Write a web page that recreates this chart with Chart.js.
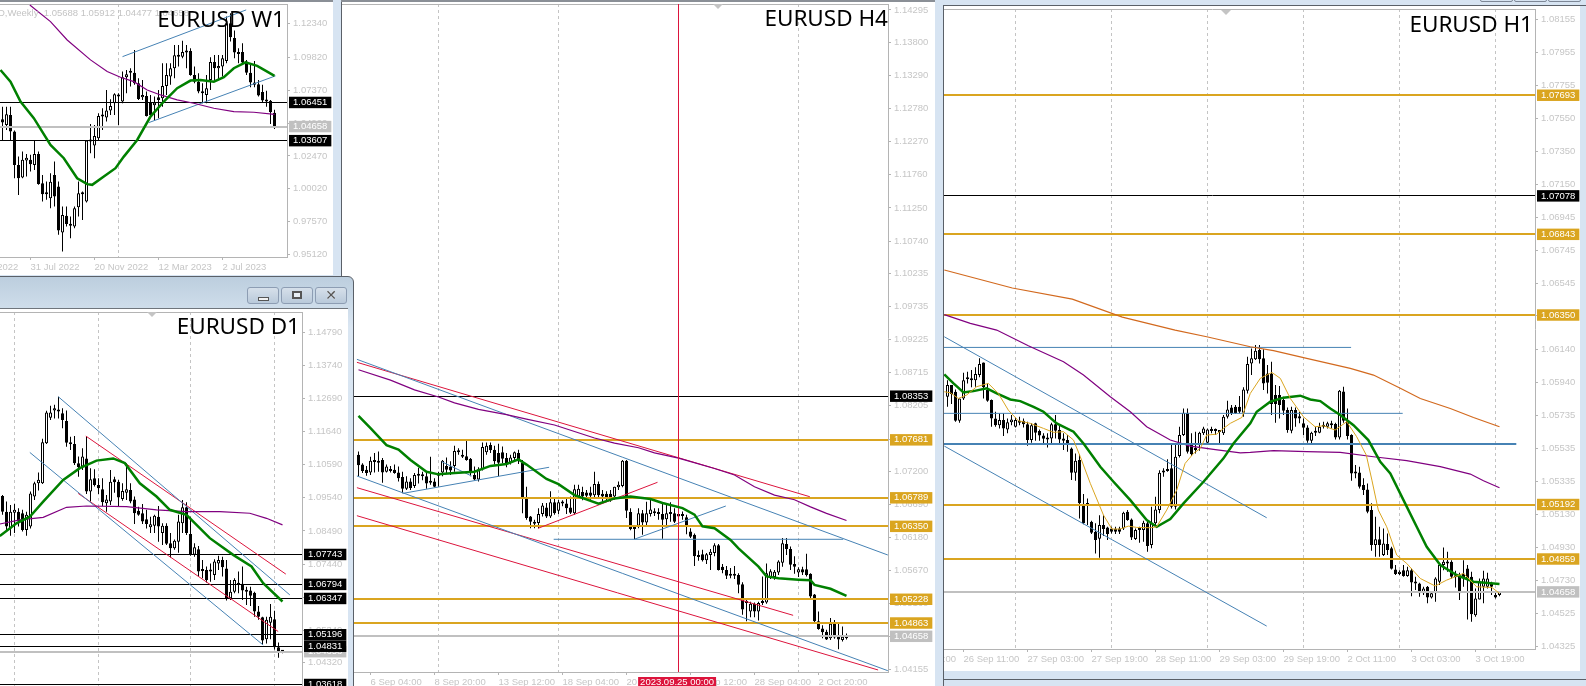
<!DOCTYPE html>
<html>
<head>
<meta charset="utf-8">
<title>EURUSD multi timeframe</title>
<script src="https://cdn.jsdelivr.net/npm/chart.js@4/dist/chart.umd.js"></script>
<style>
html,body{margin:0;padding:0;width:1586px;height:686px;overflow:hidden;background:#d7e4f2}
.abs{position:absolute}
.win{position:absolute;background:#fff;overflow:hidden}
.win canvas{position:absolute;display:block}
.dark{position:absolute;background:#5a6068}
.title{position:absolute;font:22.5px/26px "Noto Sans",sans-serif;color:#000;white-space:nowrap;text-align:right;z-index:5}
.tri{position:absolute;width:0;height:0;border-left:5px solid transparent;border-right:5px solid transparent;border-top:5px solid #c4c4c4;z-index:6}
.btn{position:absolute;top:287px;height:15px;width:30px;border:1px solid #8d9db3;border-radius:3px;background:linear-gradient(#d6e0ea,#b9c9da);z-index:7}
.btop{position:absolute;top:-8px;height:8px;width:31px;border:1px solid #7d8796;border-radius:2px;background:#d7e4f2}
</style>
</head>
<body>
<div class="win" id="w1" style="left:0;top:2px;width:333px;height:273px"></div>
<div class="dark" style="left:0;top:0;width:333px;height:2px;background:#8a8f96"></div>
<div class="win" id="h4" style="left:342px;top:2px;width:593px;height:684px"></div>
<div class="dark" style="left:341px;top:0;width:1px;height:686px"></div>
<div class="dark" style="left:341px;top:0;width:594px;height:2px;background:#8a8f96"></div>
<div class="win" id="h1" style="left:944px;top:6px;width:636px;height:665px"></div>
<div class="dark" style="left:943px;top:5px;width:643px;height:1px"></div>
<div class="dark" style="left:943px;top:5px;width:1px;height:681px"></div>
<div class="dark" style="left:943px;top:679px;width:643px;height:1px"></div>
<div class="btop" style="left:1480px"></div><div class="btop" style="left:1514px"></div><div class="btop" style="left:1548px"></div>
<div class="abs" style="left:-10px;top:276px;width:364px;height:420px;background:linear-gradient(#bccede,#dae6f2 12%,#d7e4f2);border:1px solid #5a6068;border-top-right-radius:6px;box-sizing:border-box"></div>
<div class="dark" style="left:0;top:308px;width:348px;height:1px;background:#6f757c"></div>
<div class="win" id="d1" style="left:0;top:309px;width:348px;height:377px"></div>
<div class="btn" style="left:247px"><div class="abs" style="left:10px;top:9px;width:9px;height:2px;background:#f2f2f2;border:1px solid #555"></div></div>
<div class="btn" style="left:281px"><div class="abs" style="left:10px;top:3px;width:6px;height:4px;background:#e8eef4;border:2px solid #555"></div></div>
<div class="btn" style="left:315px;text-align:center;font:bold 14px/15px 'DejaVu Sans',sans-serif;color:#555;text-shadow:0 0 1px #fff">✕</div>
<div class="title" style="right:1301px;top:6px">EURUSD W1</div>
<div class="title" style="right:1286px;top:313px">EURUSD D1</div>
<div class="title" style="right:698px;top:5px">EURUSD H4</div>
<div class="title" style="right:53px;top:11px">EURUSD H1</div>
<div class="abs" style="right:1397px;top:6px;font:9.5px/13px 'Liberation Sans','Noto Sans',sans-serif;color:#c4c4c4;white-space:pre;z-index:4">EURUSD,Weekly  1.05688 1.05912 1.04477 1.04658</div>
<div class="tri" style="left:147px;top:312px"></div>
<div class="tri" style="left:713px;top:4px"></div>
<div class="tri" style="left:1221px;top:10px"></div>
<script>
// ---- W1 -----------------------------------------------------------------
const w1Ohlc=[[1.0520,1.0614,1.0366,1.0495],[1.0478,1.0614,1.0441,1.0557],[1.0552,1.0614,1.0366,1.0428],[1.0428,1.0436,1.0081,1.0180],[1.0180,1.0242,0.9957,1.0081],[1.0086,1.0280,1.0081,1.0218],[1.0213,1.0262,1.0094,1.0233],[1.0218,1.0255,1.0131,1.0185],[1.0180,1.0366,1.0143,1.0262],[1.0262,1.0280,1.0032,1.0039],[1.0044,1.0106,0.9908,0.9962],[0.9975,1.0056,0.9920,0.9962],[0.9932,1.0118,0.9858,1.0054],[1.0106,1.0205,0.9870,0.9945],[1.0019,1.0056,0.9660,0.9692],[0.9677,0.9870,0.9536,0.9808],[0.9801,0.9870,0.9722,0.9741],[0.9741,0.9796,0.9635,0.9727],[0.9722,0.9870,0.9709,0.9858],[0.9865,1.0056,0.9796,0.9970],[0.9970,0.9982,0.9771,0.9962],[0.9908,1.0366,0.9900,1.0361],[1.0361,1.0485,1.0267,1.0354],[1.0324,1.0478,1.0230,1.0396],[1.0379,1.0565,1.0366,1.0545],[1.0545,1.0602,1.0441,1.0540],[1.0533,1.0738,1.0503,1.0585],[1.0585,1.0669,1.0552,1.0619],[1.0639,1.0714,1.0552,1.0706],[1.0701,1.0714,1.0478,1.0689],[1.0652,1.0875,1.0639,1.0833],[1.0833,1.0887,1.0714,1.0855],[1.0875,1.0900,1.0763,1.0867],[1.0867,1.1036,1.0776,1.0788],[1.0788,1.0825,1.0664,1.0671],[1.0684,1.0813,1.0664,1.0701],[1.0694,1.0726,1.0540,1.0545],[1.0644,1.0701,1.0528,1.0552],[1.0624,1.0689,1.0515,1.0644],[1.0684,1.0738,1.0528,1.0664],[1.0676,1.0937,1.0614,1.0768],[1.0768,1.0937,1.0701,1.0850],[1.0838,1.0937,1.0776,1.0900],[1.0900,1.1073,1.0825,1.0996],[1.0996,1.1073,1.0912,1.0986],[1.0986,1.1105,1.0974,1.1021],[1.1024,1.1073,1.0900,1.1016],[1.1029,1.1048,1.0843,1.0850],[1.0850,1.0912,1.0788,1.0800],[1.0800,1.0862,1.0714,1.0726],[1.0726,1.0788,1.0639,1.0714],[1.0701,1.0850,1.0639,1.0751],[1.0813,1.0981,1.0738,1.0947],[1.0947,1.0999,1.0813,1.0900],[1.0900,1.0999,1.0813,1.0917],[1.0912,1.0999,1.0838,1.0974],[1.0954,1.1284,1.0937,1.1234],[1.1234,1.1309,1.1098,1.1130],[1.1125,1.1180,1.0974,1.1016],[1.1021,1.1048,1.0937,1.1006],[1.1021,1.1086,1.0924,1.0942],[1.0949,1.0962,1.0850,1.0867],[1.0867,1.0924,1.0758,1.0793],[1.0793,1.0954,1.0758,1.0776],[1.0781,1.0813,1.0689,1.0696],[1.0723,1.0776,1.0644,1.0659],[1.0662,1.0733,1.0614,1.0652],[1.0657,1.0664,1.0485,1.0572],[1.05688,1.05912,1.04477,1.04658]];
const w1Green=[[-68.5,1.0887],[-66,1.0800],[-63.5,1.0652],[-60.17,1.0528],[-56,1.0329],[-52.67,1.0230],[-49.33,1.0081],[-46.83,1.0037],[-45.58,1.0032],[-42.67,1.0094],[-39.75,1.0156],[-37.67,1.0242],[-34.33,1.0366],[-31,1.0540],[-27.67,1.0652],[-24.33,1.0751],[-21,1.0808],[-18.5,1.0813],[-15.17,1.0800],[-12.67,1.0833],[-10.17,1.0900],[-7.25,1.0944],[-4.33,1.0917],[-1.83,1.0875],[0,1.0843]];
const w1Purple=[[-61.17,1.1371],[-56,1.1247],[-51.83,1.1110],[-46,1.0962],[-41.83,1.0875],[-38.5,1.0833],[-35.17,1.0800],[-31.83,1.0738],[-28.5,1.0701],[-24.33,1.0664],[-20.17,1.0639],[-15.17,1.0602],[-10.17,1.0577],[-5.17,1.0572],[0,1.0557]];
const w1Blue=[[[-38,1.0986],[-7.08,1.1334]],[[-31.42,1.0495],[0.25,1.0843]]];
const w1Black=[1.06451,1.03607];
const w1Ticks=[1.12340,1.09820,1.07370,1.04920,1.02470,1.00020,0.97570,0.95120];
const w1Dates=[[-77,"10 Apr 2022"],[-61,"31 Jul 2022"],[-45,"20 Nov 2022"],[-29,"12 Mar 2023"],[-13,"2 Jul 2023"]];
const w1Grid=[-39];

// ---- D1 -----------------------------------------------------------------
const d1Ohlc=[[1.0960,1.0963,1.0900,1.0910],[1.0910,1.0942,1.0847,1.0863],[1.0857,1.0931,1.0834,1.0910],[1.0907,1.0935,1.0842,1.0916],[1.0910,1.0921,1.0863,1.0879],[1.0905,1.0916,1.0847,1.0852],[1.0852,1.0910,1.0834,1.0900],[1.0863,1.0974,1.0857,1.0968],[1.0958,1.1005,1.0947,1.1000],[1.1000,1.1034,1.0977,1.1011],[1.1000,1.1141,1.0998,1.1130],[1.1127,1.1230,1.1125,1.1225],[1.1208,1.1246,1.1201,1.1225],[1.1231,1.1249,1.1206,1.1238],[1.1233,1.1275,1.1206,1.1228],[1.1222,1.1238,1.1175,1.1201],[1.1198,1.1231,1.1116,1.1129],[1.1129,1.1148,1.1106,1.1124],[1.1125,1.1150,1.1058,1.1064],[1.1064,1.1085,1.1021,1.1051],[1.1053,1.1111,1.1042,1.1085],[1.1079,1.1148,1.0966,1.0974],[1.0974,1.1048,1.0942,1.1013],[1.1016,1.1045,1.0990,1.0995],[1.0995,1.1016,1.0966,1.0984],[1.0981,1.1016,1.0928,1.0940],[1.0937,1.0963,1.0910,1.0949],[1.0942,1.1042,1.0931,1.1005],[1.1013,1.1021,1.0970,1.1003],[1.1005,1.1011,1.0928,1.0955],[1.0950,1.1000,1.0945,1.0976],[1.0970,1.1064,1.0947,1.0981],[1.0979,1.1000,1.0937,1.0942],[1.0949,1.0958,1.0871,1.0905],[1.0913,1.0926,1.0897,1.0900],[1.0905,1.0934,1.0871,1.0879],[1.0886,1.0916,1.0857,1.0871],[1.0861,1.0894,1.0842,1.0870],[1.0865,1.0900,1.0842,1.0897],[1.0894,1.0928,1.0815,1.0863],[1.0842,1.0873,1.0804,1.0865],[1.0865,1.0873,1.0804,1.0808],[1.0810,1.0842,1.0765,1.0794],[1.0794,1.0822,1.0789,1.0818],[1.0815,1.0900,1.0780,1.0879],[1.0873,1.0947,1.0842,1.0924],[1.0924,1.0940,1.0836,1.0842],[1.0839,1.0894,1.0770,1.0776],[1.0773,1.0810,1.0767,1.0797],[1.0791,1.0801,1.0706,1.0720],[1.0728,1.0757,1.0699,1.0722],[1.0725,1.0736,1.0685,1.0693],[1.0725,1.0746,1.0688,1.0720],[1.0709,1.0759,1.0693,1.0752],[1.0746,1.0770,1.0725,1.0757],[1.0757,1.0767,1.0704,1.0734],[1.0730,1.0757,1.0628,1.0635],[1.0635,1.0693,1.0630,1.0656],[1.0656,1.0699,1.0651,1.0693],[1.0683,1.0720,1.0651,1.0678],[1.0681,1.0736,1.0630,1.0660],[1.0660,1.0672,1.0614,1.0656],[1.0660,1.0672,1.0611,1.0643],[1.0653,1.0656,1.0577,1.0593],[1.0593,1.0611,1.0567,1.0577],[1.0575,1.0577,1.0487,1.0501],[1.0505,1.0577,1.0492,1.0567],[1.0558,1.0617,1.0505,1.0577],[1.0569,1.0596,1.0473,1.0480],[1.0480,1.0495,1.0447,1.0466],[1.0468,1.0471,1.0461,1.04658]];
const d1Green=[[-70.67,1.0833],[-66.5,1.0873],[-63.17,1.0894],[-59.83,1.0942],[-54.83,1.1011],[-50.67,1.1048],[-46.5,1.1072],[-42.33,1.1079],[-39.42,1.1064],[-35.67,1.1000],[-31.5,1.0958],[-28.17,1.0916],[-24,1.0900],[-18.17,1.0826],[-12.33,1.0773],[-7.75,1.0736],[-4.83,1.0683],[0,1.0625]];
const d1Purple=[[-70.67,1.0871],[-65.67,1.0884],[-59.83,1.0892],[-54,1.0924],[-49,1.0928],[-39,1.0926],[-31.5,1.0916],[-24,1.0910],[-15.67,1.0910],[-8.17,1.0905],[-4,1.0889],[0,1.0868]];
const d1Blue=[[[-56.08,1.1275],[1.83,1.0646]],[[-63.17,1.1098],[-4.83,1.0487]]];
const d1Red=[[[-49.17,1.1150],[0.83,1.0712]],[[-51.08,1.0968],[-1.08,1.0530]]];
const d1Black=[1.07743,1.06794,1.06347,1.05196,1.04831,1.03618];
const d1Ticks=[1.14790,1.13740,1.12690,1.11640,1.10590,1.09540,1.08490,1.07440,1.06390,1.05340,1.04320];
const d1Grid=[-67,-46,-23,-2];

// ---- H4 -----------------------------------------------------------------
const h4Ohlc=[[1.0745,1.0750,1.0712,1.0729],[1.0730,1.0732,1.0717,1.0720],[1.0722,1.0728,1.0713,1.0717],[1.0718,1.0742,1.0714,1.0736],[1.0736,1.0748,1.0718,1.0734],[1.0733,1.0750,1.0719,1.0736],[1.0737,1.0740,1.0702,1.0718],[1.0719,1.0730,1.0718,1.0727],[1.0722,1.0728,1.0718,1.0720],[1.0722,1.0730,1.0716,1.0717],[1.0718,1.0727,1.0704,1.0709],[1.0711,1.0719,1.0686,1.0693],[1.0693,1.0712,1.0691,1.0704],[1.0704,1.0709,1.0691,1.0694],[1.0697,1.0717,1.0694,1.0714],[1.0714,1.0725,1.0701,1.0713],[1.0714,1.0719,1.0706,1.0712],[1.0712,1.0719,1.0693,1.0701],[1.0704,1.0742,1.0699,1.0702],[1.0704,1.0709,1.0695,1.0696],[1.0715,1.0719,1.0696,1.0713],[1.0718,1.0737,1.0712,1.0736],[1.0728,1.0741,1.0717,1.0722],[1.0727,1.0735,1.0714,1.0721],[1.0728,1.0759,1.0719,1.0751],[1.0751,1.0755,1.0745,1.0749],[1.0745,1.0753,1.0740,1.0742],[1.0743,1.0768,1.0736,1.0737],[1.0739,1.0740,1.0712,1.0719],[1.0714,1.0727,1.0706,1.0707],[1.0707,1.0726,1.0704,1.0723],[1.0723,1.0764,1.0721,1.0757],[1.0749,1.0764,1.0745,1.0759],[1.0760,1.0764,1.0748,1.0752],[1.0753,1.0759,1.0730,1.0735],[1.0748,1.0762,1.0712,1.0733],[1.0749,1.0758,1.0732,1.0739],[1.0740,1.0748,1.0726,1.0731],[1.0733,1.0745,1.0730,1.0741],[1.0740,1.0750,1.0736,1.0749],[1.0748,1.0753,1.0731,1.0735],[1.0733,1.0737,1.0655,1.0677],[1.0677,1.0696,1.0645,1.0648],[1.0650,1.0651,1.0632,1.0642],[1.0642,1.0645,1.0632,1.0639],[1.0640,1.0663,1.0632,1.0654],[1.0654,1.0671,1.0650,1.0667],[1.0664,1.0671,1.0648,1.0650],[1.0650,1.0689,1.0648,1.0672],[1.0672,1.0677,1.0653,1.0655],[1.0659,1.0676,1.0654,1.0672],[1.0672,1.0675,1.0666,1.0670],[1.0670,1.0677,1.0654,1.0663],[1.0664,1.0681,1.0654,1.0656],[1.0655,1.0699,1.0653,1.0692],[1.0681,1.0699,1.0678,1.0693],[1.0688,1.0696,1.0675,1.0681],[1.0687,1.0691,1.0678,1.0682],[1.0687,1.0696,1.0676,1.0682],[1.0683,1.0719,1.0680,1.0700],[1.0700,1.0704,1.0680,1.0683],[1.0685,1.0691,1.0671,1.0681],[1.0685,1.0689,1.0675,1.0678],[1.0685,1.0691,1.0673,1.0678],[1.0681,1.0696,1.0676,1.0696],[1.0695,1.0704,1.0691,1.0699],[1.0697,1.0737,1.0695,1.0736],[1.0736,1.0737,1.0648,1.0659],[1.0657,1.0663,1.0629,1.0631],[1.0634,1.0637,1.0615,1.0631],[1.0636,1.0663,1.0632,1.0655],[1.0655,1.0660,1.0622,1.0641],[1.0641,1.0673,1.0637,1.0655],[1.0654,1.0676,1.0650,1.0661],[1.0656,1.0663,1.0651,1.0655],[1.0656,1.0663,1.0645,1.0654],[1.0654,1.0671,1.0616,1.0645],[1.0646,1.0668,1.0635,1.0655],[1.0656,1.0672,1.0642,1.0654],[1.0655,1.0663,1.0640,1.0642],[1.0654,1.0658,1.0642,1.0650],[1.0654,1.0658,1.0645,1.0651],[1.0649,1.0653,1.0623,1.0637],[1.0627,1.0632,1.0617,1.0619],[1.0622,1.0624,1.0574,1.0589],[1.0591,1.0598,1.0582,1.0588],[1.0592,1.0599,1.0581,1.0583],[1.0583,1.0594,1.0577,1.0592],[1.0591,1.0600,1.0568,1.0596],[1.0594,1.0609,1.0589,1.0606],[1.0606,1.0608,1.0567,1.0568],[1.0573,1.0577,1.0563,1.0568],[1.0568,1.0574,1.0554,1.0559],[1.0561,1.0571,1.0555,1.0559],[1.0560,1.0574,1.0554,1.0559],[1.0560,1.0563,1.0532,1.0545],[1.0546,1.0549,1.0499,1.0507],[1.0519,1.0522,1.0489,1.0517],[1.0504,1.0519,1.0495,1.0516],[1.0516,1.0518,1.0495,1.0504],[1.0504,1.0519,1.0490,1.0517],[1.0519,1.0558,1.0514,1.0517],[1.0518,1.0578,1.0516,1.0563],[1.0557,1.0569,1.0554,1.0566],[1.0557,1.0568,1.0553,1.0565],[1.0564,1.0583,1.0560,1.0581],[1.0579,1.0617,1.0573,1.0609],[1.0608,1.0617,1.0591,1.0600],[1.0600,1.0604,1.0568,1.0576],[1.0577,1.0589,1.0562,1.0573],[1.0564,1.0572,1.0557,1.0569],[1.0569,1.0573,1.0560,1.0564],[1.0569,1.0593,1.0558,1.0560],[1.0562,1.0563,1.0524,1.0527],[1.0530,1.0531,1.0486,1.0489],[1.0489,1.0504,1.0476,1.0477],[1.0478,1.0483,1.0463,1.0472],[1.0473,1.0476,1.0460,1.0461],[1.0463,1.0494,1.0460,1.0485],[1.0485,1.0491,1.0462,1.0464],[1.0466,1.0486,1.0446,1.0461],[1.0460,1.0481,1.0458,1.0465],[1.0463,1.0470,1.0461,1.04658]];
const h4Green=[[-122,1.0805],[-119,1.0786],[-115,1.0760],[-112,1.0753],[-109,1.0737],[-105,1.0719],[-102,1.0715],[-98,1.0717],[-93,1.0719],[-89,1.0728],[-85,1.0731],[-82,1.0738],[-80,1.0730],[-75,1.0708],[-72,1.0700],[-68,1.0683],[-62,1.0670],[-58,1.0678],[-54,1.0681],[-49,1.0677],[-46,1.0671],[-41,1.0663],[-38,1.0653],[-36,1.0635],[-33,1.0632],[-29,1.0614],[-27,1.0601],[-22,1.0573],[-20,1.0558],[-17,1.0555],[-12,1.0553],[-9,1.0552],[-8,1.0545],[-4,1.0539],[0,1.0528]];
const h4Purple=[[-122,1.0876],[-114,1.0860],[-108,1.0845],[-102,1.0834],[-98,1.0825],[-92,1.0815],[-85,1.0807],[-80,1.0800],[-73,1.0791],[-68,1.0781],[-63,1.0771],[-58,1.0763],[-52,1.0756],[-48,1.0748],[-42,1.0740],[-33,1.0724],[-28,1.0714],[-23,1.0696],[-18,1.0683],[-13,1.0676],[-9,1.0665],[-5,1.0655],[0,1.0644]];
const h4Blue=[[[-122.4,1.0892],[10.33,1.05909]],[[-122.4,1.07125],[10.33,1.04129]],[[-110.84,1.06858],[-74.34,1.07259]],[[-101.2,1.07345],[-93.75,1.07125]],[[-73.2,1.06151],[-0.83,1.06151]],[[-52.9,1.06155],[-30.17,1.06663]]];
const h4Red=[[[-122.4,1.08874],[-9.17,1.06806]],[[-122.4,1.06945],[-13.34,1.04981]],[[-122.4,1.06514],[7.9,1.0414]],[[-77.1,1.0632],[-47.25,1.07028]]];
const h4Black=[1.08353];
const h4Gold=[1.07681,1.06789,1.06350,1.05228,1.04863];
const h4Ticks=[1.14295,1.13800,1.13290,1.12780,1.12270,1.11760,1.11250,1.10740,1.10235,1.09735,1.09225,1.08715,1.08205,1.07690,1.07200,1.06690,1.06180,1.05670,1.05160,1.04650,1.04155];
const h4Dates=[[-119,"6 Sep 04:00"],[-103,"8 Sep 20:00"],[-87,"13 Sep 12:00"],[-71,"18 Sep 04:00"],[-55,"20 Sep 20:00"],[-39,"25 Sep 12:00"],[-23,"28 Sep 04:00"],[-7,"2 Oct 20:00"]];
const h4Grid=[-102,-72,-12];
const h4Cursor=-42, h4CursorLabel="2023.09.25 00:00";

// ---- H1 -----------------------------------------------------------------
const h1Ohlc=[[1.05851,1.05952,1.05789,1.05922],[1.05922,1.05922,1.05806,1.05867],[1.05881,1.05895,1.05698,1.05704],[1.05704,1.05840,1.05692,1.05840],[1.05840,1.05997,1.05830,1.05952],[1.05957,1.06003,1.05932,1.05969],[1.05963,1.06014,1.05908,1.05952],[1.05952,1.06030,1.05912,1.05989],[1.05983,1.06085,1.05969,1.06050],[1.06060,1.06060,1.05840,1.05908],[1.05891,1.05932,1.05820,1.05826],[1.05830,1.05834,1.05667,1.05718],[1.05718,1.05759,1.05667,1.05677],[1.05677,1.05749,1.05657,1.05708],[1.05708,1.05749,1.05610,1.05657],[1.05651,1.05718,1.05627,1.05694],[1.05694,1.05739,1.05677,1.05712],[1.05667,1.05724,1.05663,1.05708],[1.05704,1.05728,1.05677,1.05692],[1.05704,1.05718,1.05663,1.05682],[1.05682,1.05698,1.05551,1.05586],[1.05586,1.05688,1.05570,1.05677],[1.05688,1.05692,1.05582,1.05631],[1.05641,1.05651,1.05582,1.05614],[1.05614,1.05627,1.05565,1.05594],[1.05596,1.05627,1.05541,1.05590],[1.05596,1.05692,1.05561,1.05682],[1.05682,1.05739,1.05596,1.05643],[1.05647,1.05684,1.05565,1.05590],[1.05596,1.05627,1.05525,1.05582],[1.05586,1.05616,1.05515,1.05565],[1.05535,1.05541,1.05341,1.05386],[1.05386,1.05504,1.05337,1.05460],[1.05464,1.05500,1.05107,1.05199],[1.05195,1.05256,1.05072,1.05077],[1.05199,1.05229,1.05066,1.05189],[1.05087,1.05093,1.05011,1.05020],[1.05026,1.05077,1.04893,1.04975],[1.04983,1.05127,1.04867,1.05066],[1.05066,1.05127,1.05000,1.05042],[1.05052,1.05056,1.04975,1.05011],[1.05046,1.05056,1.05015,1.05026],[1.05044,1.05056,1.05011,1.05026],[1.05046,1.05056,1.05011,1.05026],[1.05046,1.05148,1.05036,1.05142],[1.05148,1.05158,1.05093,1.05097],[1.05101,1.05107,1.04975,1.04991],[1.04981,1.05046,1.04975,1.05036],[1.05040,1.05056,1.04958,1.05036],[1.05036,1.05093,1.04965,1.05081],[1.05077,1.05087,1.04903,1.04938],[1.04944,1.05178,1.04924,1.05081],[1.05077,1.05240,1.05056,1.05162],[1.05158,1.05402,1.05138,1.05386],[1.05396,1.05413,1.05362,1.05388],[1.05396,1.05468,1.05392,1.05407],[1.05413,1.05555,1.05168,1.05178],[1.05178,1.05555,1.05162,1.05484],[1.05488,1.05667,1.05480,1.05616],[1.05616,1.05779,1.05610,1.05753],[1.05753,1.05779,1.05504,1.05515],[1.05555,1.05627,1.05488,1.05500],[1.05535,1.05637,1.05504,1.05525],[1.05555,1.05637,1.05521,1.05631],[1.05627,1.05667,1.05616,1.05657],[1.05570,1.05657,1.05561,1.05651],[1.05647,1.05667,1.05627,1.05641],[1.05647,1.05657,1.05616,1.05641],[1.05641,1.05647,1.05555,1.05635],[1.05627,1.05739,1.05616,1.05728],[1.05728,1.05826,1.05718,1.05773],[1.05785,1.05800,1.05739,1.05749],[1.05789,1.05800,1.05745,1.05749],[1.05789,1.05855,1.05749,1.05759],[1.05753,1.05908,1.05728,1.05895],[1.05887,1.06095,1.05871,1.06050],[1.06054,1.06146,1.05983,1.06085],[1.06079,1.06166,1.06075,1.06132],[1.06136,1.06166,1.06054,1.06079],[1.06085,1.06140,1.05891,1.05932],[1.05993,1.06044,1.05871,1.05936],[1.05993,1.06064,1.05739,1.05806],[1.05861,1.05922,1.05692,1.05806],[1.05861,1.05916,1.05718,1.05800],[1.05830,1.05851,1.05739,1.05765],[1.05769,1.05785,1.05631,1.05647],[1.05643,1.05789,1.05627,1.05769],[1.05769,1.05785,1.05667,1.05718],[1.05732,1.05759,1.05688,1.05718],[1.05688,1.05718,1.05616,1.05661],[1.05663,1.05677,1.05570,1.05582],[1.05582,1.05637,1.05565,1.05631],[1.05637,1.05667,1.05610,1.05631],[1.05631,1.05692,1.05627,1.05667],[1.05667,1.05698,1.05657,1.05677],[1.05667,1.05698,1.05657,1.05688],[1.05688,1.05704,1.05657,1.05677],[1.05684,1.05692,1.05590,1.05602],[1.05602,1.05891,1.05590,1.05887],[1.05883,1.05912,1.05692,1.05704],[1.05704,1.05779,1.05590,1.05610],[1.05616,1.05622,1.05337,1.05382],[1.05388,1.05433,1.05352,1.05382],[1.05388,1.05423,1.05290,1.05301],[1.05311,1.05352,1.05250,1.05280],[1.05284,1.05321,1.05138,1.05148],[1.05158,1.05199,1.04910,1.04944],[1.04944,1.05117,1.04873,1.04979],[1.04979,1.05056,1.04873,1.04944],[1.04883,1.05046,1.04877,1.04954],[1.04950,1.05015,1.04883,1.04914],[1.04924,1.04934,1.04795,1.04799],[1.04795,1.04822,1.04761,1.04767],[1.04767,1.04791,1.04761,1.04781],[1.04791,1.04822,1.04751,1.04755],[1.04755,1.04812,1.04751,1.04791],[1.04791,1.04801,1.04632,1.04716],[1.04720,1.04751,1.04669,1.04710],[1.04710,1.04714,1.04628,1.04649],[1.04649,1.04689,1.04639,1.04679],[1.04689,1.04694,1.04588,1.04624],[1.04624,1.04659,1.04618,1.04649],[1.04649,1.04747,1.04598,1.04740],[1.04720,1.04832,1.04700,1.04822],[1.04822,1.04930,1.04791,1.04842],[1.04842,1.04903,1.04781,1.04832],[1.04842,1.04852,1.04740,1.04751],[1.04755,1.04787,1.04685,1.04747],[1.04755,1.04775,1.04608,1.04649],[1.04771,1.04852,1.04689,1.04740],[1.04801,1.04822,1.04490,1.04730],[1.04751,1.04781,1.04476,1.04522],[1.04516,1.04679,1.04506,1.04618],[1.04612,1.04740,1.04612,1.04720],[1.04689,1.04787,1.04588,1.04740],[1.04689,1.04775,1.04679,1.04740],[1.04710,1.04720,1.04639,1.04689],[1.04639,1.04659,1.04618,1.04624],[1.04639,1.04659,1.04632,1.04658]];
const h1Green=[[-138.8,1.05987],[-136.5,1.05932],[-134,1.05877],[-131.5,1.05885],[-128.2,1.05902],[-125.7,1.05871],[-122.3,1.05834],[-119.8,1.05824],[-116.5,1.05789],[-114,1.05759],[-110.7,1.05688],[-106.5,1.05637],[-104,1.05565],[-99.8,1.05423],[-96.5,1.05331],[-92.3,1.05219],[-88.2,1.05097],[-85.7,1.05056],[-82.3,1.05103],[-79,1.05199],[-74,1.05331],[-69,1.05474],[-66.5,1.05565],[-62.3,1.05688],[-60.7,1.05759],[-57.3,1.05820],[-54,1.05845],[-49.8,1.05857],[-47.3,1.05834],[-44.8,1.05824],[-42.3,1.05779],[-39.8,1.05739],[-36.5,1.05677],[-32.8,1.05586],[-29.8,1.05453],[-27.3,1.05382],[-24,1.05219],[-20.7,1.05056],[-18.2,1.04934],[-14.8,1.04822],[-10.7,1.04761],[-6.5,1.04720],[0,1.04706]];
const h1Gold=[[-138.8,1.05881],[-137.3,1.05875],[-135.3,1.05840],[-133.2,1.05861],[-130.7,1.05912],[-127.8,1.05932],[-125.3,1.05871],[-122.8,1.05769],[-120.3,1.05704],[-117.3,1.05688],[-114,1.05657],[-111.5,1.05633],[-109,1.05637],[-106.5,1.05586],[-104.8,1.05484],[-102.3,1.05321],[-99,1.05127],[-96.9,1.05042],[-94.8,1.05042],[-92.8,1.05060],[-90.7,1.05052],[-87.3,1.05050],[-85.7,1.05056],[-83.2,1.05158],[-80.7,1.05280],[-78.6,1.05443],[-76.5,1.05504],[-74.8,1.05535],[-73.2,1.05616],[-70.7,1.05622],[-69,1.05657],[-67.3,1.05688],[-64.4,1.05724],[-62.3,1.05871],[-59.8,1.05963],[-56.9,1.05999],[-54.8,1.05963],[-52.3,1.05840],[-49,1.05728],[-46.1,1.05667],[-44,1.05673],[-41.1,1.05647],[-38.2,1.05698],[-35.7,1.05606],[-33.3,1.05494],[-31.9,1.05341],[-30.3,1.05158],[-28.2,1.05056],[-25.7,1.04883],[-23.2,1.04832],[-19.8,1.04740],[-16.1,1.04694],[-13.2,1.04730],[-9,1.04771],[-5.7,1.04689],[-1.9,1.04685],[0,1.04649]];
const h1Purple=[[-138.8,1.06352],[-132.3,1.06299],[-125.7,1.06258],[-117.8,1.06162],[-109,1.06064],[-104,1.05983],[-97.3,1.05851],[-92.3,1.05759],[-88.2,1.05667],[-82.3,1.05586],[-77.3,1.05549],[-71.5,1.05529],[-64.8,1.05508],[-62.3,1.05510],[-56.5,1.05521],[-48.2,1.05515],[-39.8,1.05510],[-31.5,1.05484],[-23.2,1.05460],[-14.8,1.05423],[-7.3,1.05378],[-4,1.05337],[0,1.05294]];
const h1Brown=[[-138.8,1.06625],[-121.8,1.06515],[-106.8,1.06447],[-94.3,1.06337],[-81.1,1.06258],[-73.2,1.06217],[-62.3,1.06156],[-56.5,1.06132],[-48.2,1.06085],[-37.3,1.06024],[-31.5,1.05983],[-24.8,1.05902],[-19.8,1.05840],[-12.3,1.05779],[-6.5,1.05724],[0,1.05667]];
const h1Blue=[[[-138.8,1.06217],[-58.2,1.05111]],[[-138.8,1.05549],[-58.2,1.04449]],[[-152,1.06152],[-37.1,1.06152]],[[-152,1.05749],[-24.2,1.05749]]];
const h1BlueThick=[[-152,1.05561],[4.2,1.05561]];
const h1BlackLevels=[1.07078];
const h1GoldLevels=[1.07693,1.06843,1.06350,1.05192,1.04859];
const h1Ticks=[1.08155,1.07955,1.07755,1.07550,1.07350,1.07150,1.06945,1.06745,1.06545,1.06345,1.06140,1.05940,1.05735,1.05535,1.05335,1.05130,1.04930,1.04730,1.04525,1.04325];
const h1Dates=[[-150,"25 Sep 19:00"],[-134,"26 Sep 11:00"],[-118,"27 Sep 03:00"],[-102,"27 Sep 19:00"],[-86,"28 Sep 11:00"],[-70,"29 Sep 03:00"],[-54,"29 Sep 19:00"],[-38,"2 Oct 11:00"],[-22,"3 Oct 03:00"],[-6,"3 Oct 19:00"]];
const h1Grid=[-121,-97,-73,-49,-25,-1];

const lastPrice=1.04658;

// ---- styles -------------------------------------------------------------
const C={blue:'#4682b4',red:'#dc143c',green:'#008000',purple:'#800080',gold:'#daa520',brown:'#d2691e',grey:'#c0c0c0',axis:'#b4b4b4',tick:'#c6c6c6'};
const FONT='"Liberation Sans",sans-serif';

const snapPlugin={id:'snap',beforeDatasetsDraw(chart){
  chart.data.datasets.forEach((d,i)=>{ if(!d.snap) return;
    const off=(d.borderWidth%2)/2;
    chart.getDatasetMeta(i).data.forEach(p=>{p.y=Math.round(p.y-off)+off;});
  });
  const a=chart.chartArea,c=chart.ctx;
  c.save();c.strokeStyle=C.axis;c.lineWidth=1;c.beginPath();c.moveTo(a.left,a.top+.5);c.lineTo(a.right,a.top+.5);c.stroke();c.restore();
}};

function poly(points,color,width,order,extra){
  return Object.assign({type:'line',data:points.map(p=>({x:p[0],y:p[1]})),borderColor:color,borderWidth:width,pointRadius:0,tension:0,fill:false,order:order||3},extra||{});
}

function build(cfg){
  const host=document.getElementById(cfg.host), hr=host.getBoundingClientRect();
  const cv=document.createElement('canvas');
  const P=cfg.plot, W=P.r-P.l+cfg.axisW, H=P.b-P.t+cfg.xH+1;
  cv.width=W;cv.height=H;
  cv.style.left=(P.l-hr.left)+'px';cv.style.top=(P.t-1-hr.top)+'px';
  cv.style.width=W+'px';cv.style.height=H+'px';
  host.appendChild(cv);
  const xMin=(P.l-cfg.lastPx)/4,xMax=(P.r-cfg.lastPx)/4;
  const n=cfg.ohlc.length;
  const idx=i=>i-n+1;
  const levels=[];
  (cfg.black||[]).forEach(v=>levels.push({v,bg:'#000',w:1}));
  (cfg.gold||[]).forEach(v=>levels.push({v,bg:C.gold,w:2}));
  levels.push({v:lastPrice,bg:C.grey,w:2,last:true});
  const ds=[];
  ds.push({type:'bar',order:11,grouped:false,barThickness:1,inflateAmount:0,backgroundColor:'#000',borderWidth:0,
    data:cfg.ohlc.map((r,i)=>({x:idx(i),y:[r[2],r[1]]}))});
  ds.push({type:'bar',order:10,grouped:false,barThickness:3,inflateAmount:0,minBarLength:2,borderSkipped:false,borderWidth:1,borderColor:'#000',
    backgroundColor:cfg.ohlc.map(r=>r[3]>=r[0]?'#fff':'#000'),
    data:cfg.ohlc.map((r,i)=>({x:idx(i),y:[r[0],r[3]]}))});
  levels.forEach(l=>ds.push(poly([[xMin,l.v],[xMax,l.v]],l.bg,l.w,5,{snap:true})));
  (cfg.lines||[]).forEach(d=>ds.push(d));
  const yTicks=cfg.ticks.map(v=>({value:v,text:v.toFixed(5)}))
    .concat(levels.filter(l=>l.last).map(l=>({value:l.v,text:l.v.toFixed(5),bg:l.bg})))
    .concat(levels.filter(l=>!l.last).map(l=>({value:l.v,text:l.v.toFixed(5),bg:l.bg})));
  const xTicks=(cfg.dates||[]).map(d=>({value:d[0],text:d[1]}))
    .concat((cfg.grid||[]).map(v=>({value:v,text:'',grid:true})))
    .concat(cfg.cursor?[{value:cfg.cursor.at,text:'',grid:'red'},{value:cfg.cursor.labelAt,text:cfg.cursor.text,bg:C.red}]:[]);
  return new Chart(cv,{
    type:'line',
    data:{datasets:ds},
    plugins:[snapPlugin],
    options:{
      responsive:false,animation:false,devicePixelRatio:1,
      layout:{padding:{top:1,left:0,right:0,bottom:0}},
      plugins:{legend:{display:false},tooltip:{enabled:false},title:{display:false}},
      events:[],
      scales:{
        x:{type:'linear',min:xMin,max:xMax,offset:false,
          grid:{offset:false,drawTicks:true,tickLength:3,
            color:c=>c.tick&&c.tick.grid===true?'#c4c4c4':'rgba(0,0,0,0)',
            tickColor:c=>c.tick&&c.tick.text&&!c.tick.bg?C.axis:'rgba(0,0,0,0)',lineWidth:1},
          border:{color:C.axis,dash:[3,3]},
          afterBuildTicks:s=>{s.ticks=xTicks.map(t=>Object.assign({},t));},
          afterFit:s=>{s.height=cfg.xH;s.paddingLeft=0;s.paddingRight=0;},
          ticks:{autoSkip:false,maxRotation:0,minRotation:0,align:'start',padding:2,
            font:{family:FONT,size:9.5,lineHeight:1.1},
            color:c=>c.tick&&c.tick.bg?'#fff':C.tick,
            showLabelBackdrop:c=>!!(c.tick&&c.tick.bg),
            backdropColor:c=>c.tick&&c.tick.bg?c.tick.bg:'rgba(0,0,0,0)',
            backdropPadding:{left:2,right:2,top:0,bottom:0},
            callback:(v,i,t)=>t[i].text}},
        y:{type:'linear',position:'right',min:cfg.yMin,max:cfg.yMax,
          grid:{drawOnChartArea:false,drawTicks:true,tickLength:3,
            tickColor:c=>c.tick&&c.tick.bg?'rgba(0,0,0,0)':C.axis},
          border:{color:C.axis},
          afterBuildTicks:s=>{s.ticks=yTicks.map(t=>Object.assign({},t));},
          afterFit:s=>{s.width=cfg.axisW;s.paddingTop=0;s.paddingBottom=0;},
          ticks:{autoSkip:false,padding:3,
            font:{family:FONT,size:9.5,lineHeight:1.1},
            color:c=>c.tick&&c.tick.bg?'#fff':C.tick,
            showLabelBackdrop:c=>!!(c.tick&&c.tick.bg),
            backdropColor:c=>c.tick&&c.tick.bg?c.tick.bg:'rgba(0,0,0,0)',
            backdropPadding:{left:4,right:4,top:0.5,bottom:0.5},
            callback:(v,i,t)=>t[i].text}}
      }
    }
  });
}

const thin=(segs,color)=>segs.map(s=>poly(s,color,1,3));

build({host:'w1',ohlc:w1Ohlc,plot:{l:-60,r:287,t:4,b:257},axisW:46,xH:16,lastPx:274.5,yMin:0.94948,yMax:1.13779,
  ticks:w1Ticks,dates:w1Dates,grid:w1Grid,black:w1Black,
  lines:[...thin(w1Blue,C.blue),poly(w1Purple,C.purple,1.2,2),poly(w1Green,C.green,2.5,1)]});

build({host:'d1',ohlc:d1Ohlc,plot:{l:-30,r:302,t:312,b:700},axisW:46,xH:4,lastPx:282.5,yMin:1.03126,yMax:1.15435,
  ticks:d1Ticks,grid:d1Grid,black:d1Black,
  lines:[...thin(d1Blue,C.blue),...thin(d1Red,C.red),poly(d1Purple,C.purple,1.2,2),poly(d1Green,C.green,2.5,1)]});

build({host:'h4',ohlc:h4Ohlc,plot:{l:342,r:888,t:4,b:672},axisW:47,xH:14,lastPx:846.5,yMin:1.04109,yMax:1.14387,
  ticks:h4Ticks,dates:h4Dates,grid:h4Grid,black:h4Black,gold:h4Gold,
  cursor:{at:h4Cursor,labelAt:-51.6,text:h4CursorLabel},
  lines:[...thin(h4Blue,C.blue),...thin(h4Red,C.red),poly(h4Purple,C.purple,1.2,2),poly(h4Green,C.green,2.5,1),
    poly([[h4Cursor,1.04109],[h4Cursor,1.14387]],C.red,1,1)]});

build({host:'h1',ohlc:h1Ohlc,plot:{l:890,r:1535,t:9,b:649},axisW:45,xH:20,lastPx:1499.5,yMin:1.04309,yMax:1.0822,
  ticks:h1Ticks,dates:h1Dates,grid:h1Grid,black:h1BlackLevels,gold:h1GoldLevels,
  lines:[...thin(h1Blue,C.blue),poly(h1BlueThick,C.blue,2,2),poly(h1Brown,C.brown,1.2,2),poly(h1Purple,C.purple,1.2,2),poly(h1Gold,C.gold,1,1),poly(h1Green,C.green,2.5,1)]});
</script>
</body>
</html>
